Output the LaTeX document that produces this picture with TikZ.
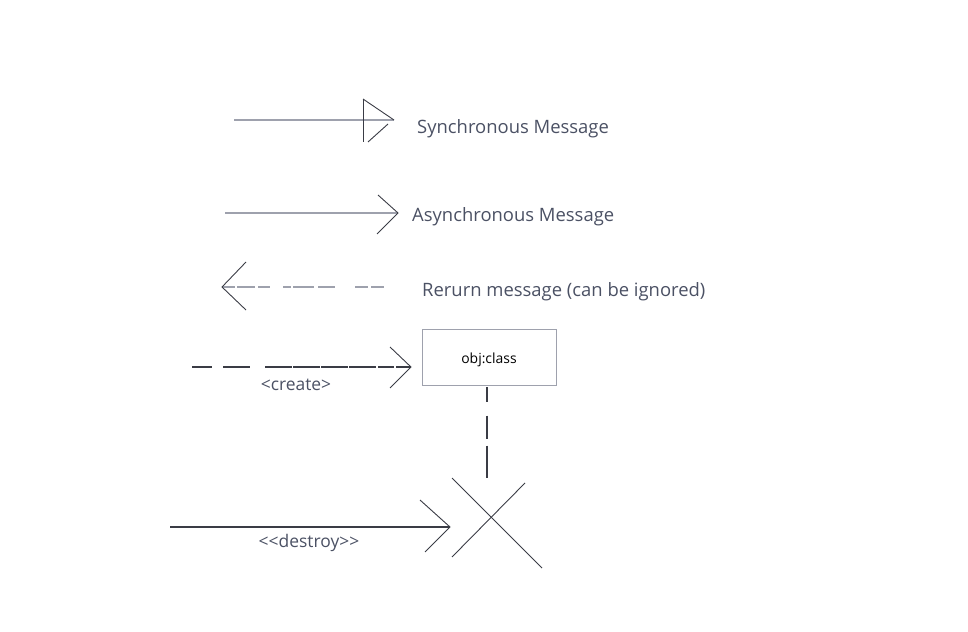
\documentclass[tikz,border=0pt]{standalone}
\usepackage{fontspec}
\setmainfont{Open Sans}
\usepackage{xcolor}
\definecolor{linegray}{HTML}{9EA1AD}
\definecolor{inkdark}{HTML}{3A3C45}
\definecolor{txt}{HTML}{4B5164}
\tikzset{
  msgline/.style={linegray,line width=1.4pt},
  head/.style={inkdark,line width=0.9pt},
  lbl/.style={txt,anchor=west,inner sep=0pt,font=\fontsize{18.5}{21}\selectfont},
  sublbl/.style={txt,inner sep=0pt,font=\fontsize{17.5}{20}\selectfont},
}
\begin{document}
\begin{tikzpicture}[x=1bp,y=-1bp]
\useasboundingbox (0,0) rectangle (968,632);

% synchronous
\coordinate (s1) at (234,120);
\coordinate (s2) at (394,120);
\draw[msgline] (s1) -- (s2);
\draw[head] (363,99) -- (363,142);
\draw[head] (363,99) -- (s2);
\draw[head] (388,124) -- (368,142);
\node[lbl] (stxt) at (417,129) {Synchronous Message};

% asynchronous
\coordinate (a1) at (225,213);
\coordinate (a2) at (398,213);
\draw[msgline] (a1) -- (a2);
\draw[head] (378,195) -- (a2) -- (377,234);
\node[lbl] (atxt) at (412,217) {Asynchronous Message};

% return
\coordinate (r1) at (384,287);
\coordinate (r2) at (222,287);
\draw[msgline,dash pattern=on 13bp off 2bp on 18bp off 3bp on 12bp off 13bp on 8bp off 2bp on 21bp off 4bp on 17bp off 20bp on 13bp off 3bp on 13bp off 50bp]
  (r2) -- (r1);
\draw[head] (246,262) -- (r2) -- (246,310);
\node[lbl] (rtxt) at (422,292) {Rerurn message (can be ignored)};

% create
\node[draw=linegray,line width=1pt,minimum width=134bp,minimum height=56bp,inner sep=0pt,
  font=\fontsize{14}{16}\selectfont] (obj) at (489,357) {\smash{\raisebox{-6bp}{obj:class}}};
\coordinate (c1) at (192,367);
\coordinate (c2) at (411,367);
\draw[inkdark,line width=1.2pt,dash pattern=on 20bp off 11bp on 27bp off 15bp on 27bp off 1bp on 27bp off 1bp on 27bp off 1bp on 27bp off 2bp on 16bp off 2bp on 16bp]
  (c1) -- (c2);
\draw[head] (390,347) -- (c2) -- (390,388);
\node[sublbl] (ctxt) at (296,385) {<create>};

% lifeline and destroy
\coordinate (x0) at (487,478);
\draw[inkdark,line width=1.2pt,dash pattern=on 14bp off 14bp on 23bp off 7bp on 32bp]
  (obj.south -| x0) ++(0,2) -- (x0);
\draw[head] (452,478) -- (542,568);
\draw[head] (525,483) -- (452,557);
\coordinate (d1) at (170,527);
\coordinate (d2) at (450,527);
\draw[inkdark,line width=1.2pt] (d1) -- (d2);
\draw[head] (420,500) -- (d2) -- (425,552);
\node[sublbl] (dtxt) at (309,543) {<{}<destroy>{}>};
\end{tikzpicture}
\end{document}
